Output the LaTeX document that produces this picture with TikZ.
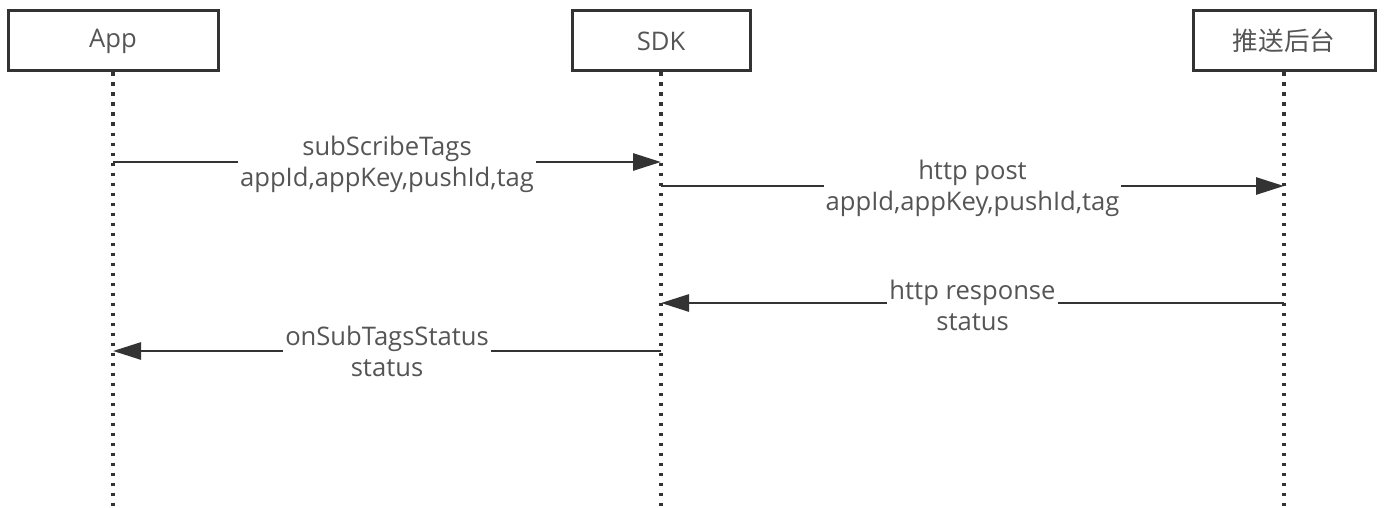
\documentclass[tikz,border=0pt]{standalone}
\usepackage{fontspec}
\setmainfont{Open Sans}
\newfontfamily\cjk{Noto Sans CJK SC}
\usepackage{tikz}
\usetikzlibrary{arrows.meta, calc}
\definecolor{ink}{HTML}{333333}
\definecolor{txt}{HTML}{555555}

\begin{document}
\begin{tikzpicture}[x=0.5pt, y=-0.5pt,
  every node/.style={text=txt, font=\fontsize{12.8}{15.5}\selectfont},
  lane/.style={draw=ink, line width=1.5pt, minimum height=30pt, inner sep=0pt},
  life/.style={draw=ink, line width=1.6pt, dash pattern=on 1.6pt off 3.4pt},
  msg/.style={draw=ink, line width=1.4pt, -{Triangle[length=14pt, width=8.5pt]}},
  lbl/.style={fill=white, align=center, inner xsep=1pt, inner ysep=0pt}]

\useasboundingbox (0,0) rectangle (1385,508);

\node(app)[lane, minimum width=105pt] at (113,41){App};
\node(sdk)[lane, minimum width=89pt] at (661,41){SDK};
\node(srv)[lane, minimum width=91pt] at (1284,41){\cjk 推送后台};

\coordinate (bot) at (0,508);
\foreach \n in {app, sdk, srv}
  \draw[life] (\n.south) -- (\n.south |- bot);

\draw[msg] (app.south |- 0,162) -- (sdk.south |- 0,162)
  node[lbl, midway, yshift=-1pt]{subScribeTags\\appId,appKey,pushId,tag};
\draw[msg] (sdk.south |- 0,186) -- (srv.south |- 0,186)
  node[lbl, midway, yshift=-1pt]{http post\\appId,appKey,pushId,tag};
\draw[msg] (srv.south |- 0,303) -- (sdk.south |- 0,303)
  node[lbl, midway, yshift=-1pt]{http response\\status};
\draw[msg] (sdk.south |- 0,351) -- (app.south |- 0,351)
  node[lbl, midway]{onSubTagsStatus\\status};
\end{tikzpicture}
\end{document}
